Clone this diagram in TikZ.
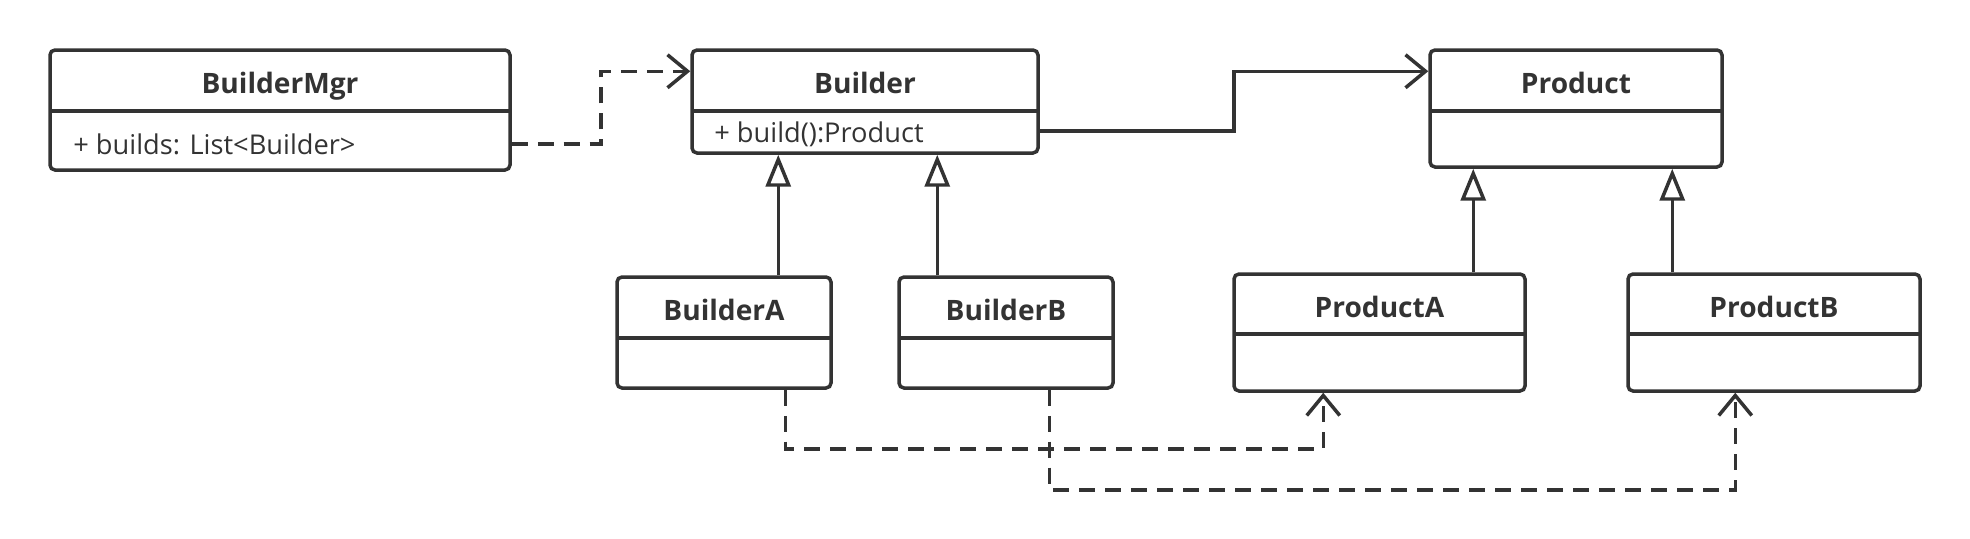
\documentclass[tikz,border=0pt]{standalone}
\usepackage{fontspec}
\setmainfont{Open Sans}
\usetikzlibrary{arrows.meta, positioning, fit, calc}
\definecolor{ink}{RGB}{51,51,51}

\tikzset{
    classbox/.style={draw=ink, line width=0.07cm, rounded corners=0.1cm, inner sep=0pt},
    divider/.style={draw=ink, line width=0.07cm},
    classtitle/.style={text=ink, anchor=base, font=\fontsize{16}{19}\selectfont\bfseries},
    classattr/.style={text=ink, anchor=west, inner sep=0pt, font=\fontsize{15.5}{18}\selectfont},
    inherit/.style={draw=ink, line width=0.07cm, -{Triangle[open, length=0.64cm, width=0.5cm]}},
    assoc/.style={draw=ink, line width=0.07cm, -{Straight Barb[length=0.4cm, width=0.66cm]}},
    depend/.style={assoc, dash pattern=on 0.32cm off 0.2cm},
}

\newcommand{\umlclass}[7]{%
    \node[classbox, fit={(#2,#3) (#4,#5)}] (#1) {};
    \draw[divider] (#2,#6) -- (#4,#6);
    \node[classtitle] (#1-title) at ({(#2+#4)/2},#3+43) {#7};
}

\begin{document}
\begin{tikzpicture}[x=0.02cm, y=-0.02cm]
        \useasboundingbox (0,0) rectangle (1970,538);

        \umlclass{mgr}{50}{50}{510}{170}{111}{BuilderMgr}
        \node[classattr] (mgr-attr) at (73,144) {+ builds: List<Builder>};
        \umlclass{builder}{692}{50}{1038}{153}{111}{Builder}
        \node[classattr] (builder-attr) at (714,134) {+ build():Product};
        \umlclass{product}{1430}{50}{1722}{167}{111}{Product}

        \umlclass{builderA}{617}{277}{831}{388}{338}{BuilderA}
        \umlclass{builderB}{899}{277}{1113}{388}{338}{BuilderB}
        \umlclass{productA}{1234}{274}{1525}{391}{334}{ProductA}
        \umlclass{productB}{1628}{274}{1920}{391}{334}{ProductB}

        \draw[depend] (mgr.east |- mgr-attr) -| ($(mgr.east)!.5!(builder.west)$)
            |- ($(builder.north west)+(0,23)$);
        \draw[assoc] ($(builder.south east)+(0,-24)$) -| ($(builder.east)!.5!(product.west)$)
            |- ($(product.north west)+(0,23)$);

        \coordinate (builderA-top) at ($(builderA.north west)+(163,0)$);
        \coordinate (builderB-top) at ($(builderB.north west)+(40,0)$);
        \coordinate (productA-top) at ($(productA.north west)+(241,0)$);
        \coordinate (productB-top) at ($(productB.north west)+(46,0)$);
        \draw[inherit] (builderA-top) -- (builderA-top |- builder.south);
        \draw[inherit] (builderB-top) -- (builderB-top |- builder.south);
        \draw[inherit] (productA-top) -- (productA-top |- product.south);
        \draw[inherit] (productB-top) -- (productB-top |- product.south);

        \draw[depend] ($(builderA.south west)+(170,0)$) -- ++(0,59) -| ($(productA.south west)+(91,0)$);
        \draw[depend] ($(builderB.south west)+(152,0)$) -- ++(0,100) -| ($(productB.south west)+(109,0)$);
    \end{tikzpicture}
\end{document}
